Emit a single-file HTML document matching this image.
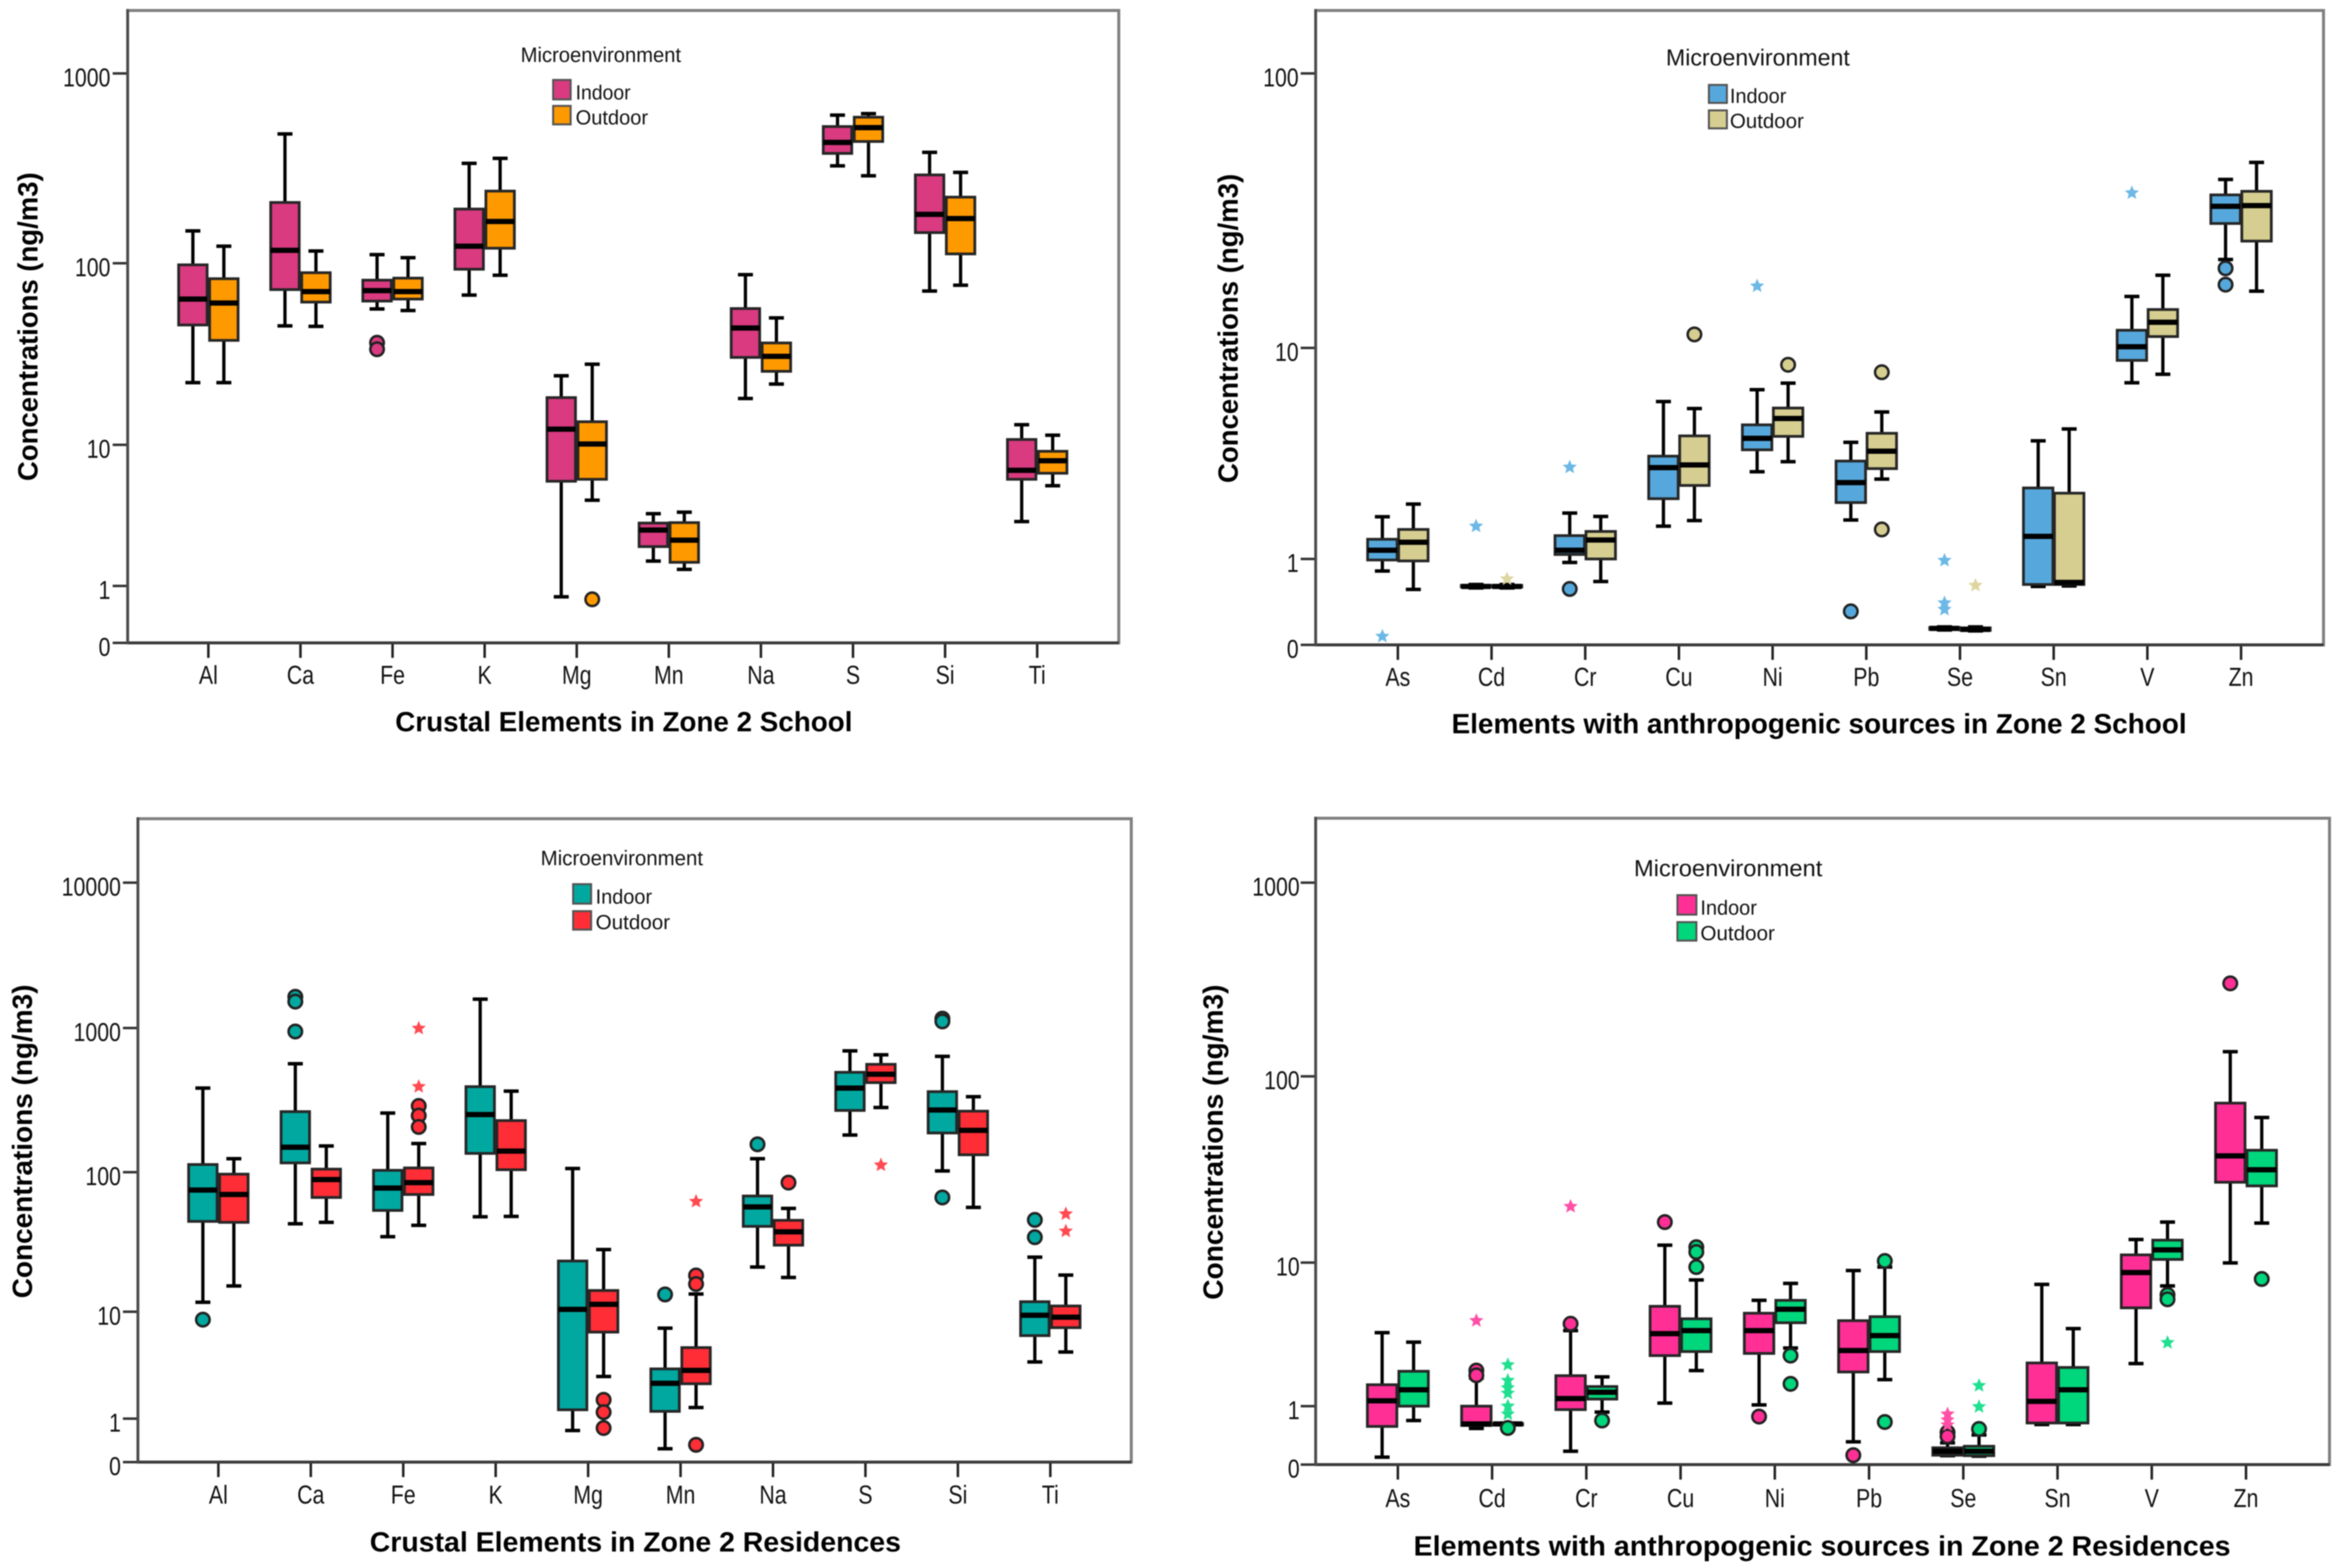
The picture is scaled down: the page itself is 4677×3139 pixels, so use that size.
<!DOCTYPE html>
<html lang="en">
<head>
<meta charset="utf-8">
<title>Element concentrations in Zone 2</title>
<style>
html,body{margin:0;padding:0;background:#fff;}
body{width:4677px;height:3139px;overflow:hidden;}
svg{display:block;filter:blur(1px);}
text{font-family:"Liberation Sans",sans-serif;fill:#111;}
.ttl{font-weight:700;fill:#000;}
</style>
</head>
<body>
<svg id="chart" xmlns="http://www.w3.org/2000/svg" width="4677" height="3139" viewBox="0 0 4677 3139">
<rect x="0" y="0" width="4677" height="3139" fill="#ffffff"/>

<g id="p1">
  <rect x="255.5" y="21" width="1983.5" height="1266" fill="#fff" stroke="#808080" stroke-width="6"/>
  <text class="ttl" font-size="56" textLength="618" lengthAdjust="spacingAndGlyphs" transform="translate(75,963) rotate(-90)">Concentrations (ng/m3)</text>
  <text class="ttl" x="791" y="1464" font-size="56" textLength="915" lengthAdjust="spacingAndGlyphs">Crustal Elements in Zone 2 School</text>
  <text x="1042" y="124" font-size="42" textLength="321" lengthAdjust="spacingAndGlyphs">Microenvironment</text>
  <rect x="1107" y="160" width="35" height="39" fill="#D93A80" stroke="#555" stroke-width="4"/>
  <rect x="1107" y="212" width="35" height="37" fill="#FF9900" stroke="#555" stroke-width="4"/>
  <text x="1152" y="199" font-size="41" textLength="110" lengthAdjust="spacingAndGlyphs">Indoor</text>
  <text x="1152" y="249" font-size="41" textLength="145" lengthAdjust="spacingAndGlyphs">Outdoor</text>
</g>

<g id="p2">
  <rect x="2633" y="21" width="2017" height="1270" fill="#fff" stroke="#808080" stroke-width="6"/>
  <text class="ttl" font-size="56" textLength="619" lengthAdjust="spacingAndGlyphs" transform="translate(2477,967) rotate(-90)">Concentrations (ng/m3)</text>
  <text class="ttl" x="2905" y="1468" font-size="56" textLength="1471" lengthAdjust="spacingAndGlyphs">Elements with anthropogenic sources in Zone 2 School</text>
  <text x="3334" y="131" font-size="46" textLength="368" lengthAdjust="spacingAndGlyphs">Microenvironment</text>
  <rect x="3420" y="170" width="36" height="36" fill="#56A8DC" stroke="#555" stroke-width="4"/>
  <rect x="3420" y="221" width="36" height="36" fill="#D6CE90" stroke="#555" stroke-width="4"/>
  <text x="3462" y="206" font-size="41" textLength="113" lengthAdjust="spacingAndGlyphs">Indoor</text>
  <text x="3462" y="256" font-size="41" textLength="148" lengthAdjust="spacingAndGlyphs">Outdoor</text>
</g>

<g id="p3">
  <rect x="276" y="1639" width="1988" height="1288" fill="#fff" stroke="#808080" stroke-width="6"/>
  <text class="ttl" font-size="56" textLength="628" lengthAdjust="spacingAndGlyphs" transform="translate(64,2599) rotate(-90)">Concentrations (ng/m3)</text>
  <text class="ttl" x="740" y="3106" font-size="56" textLength="1063" lengthAdjust="spacingAndGlyphs">Crustal Elements in Zone 2 Residences</text>
  <text x="1082" y="1732" font-size="42" textLength="325" lengthAdjust="spacingAndGlyphs">Microenvironment</text>
  <rect x="1147" y="1770" width="36" height="39" fill="#00A8A0" stroke="#555" stroke-width="4"/>
  <rect x="1147" y="1824" width="36" height="37" fill="#FF2D35" stroke="#555" stroke-width="4"/>
  <text x="1192" y="1809" font-size="41" textLength="113" lengthAdjust="spacingAndGlyphs">Indoor</text>
  <text x="1192" y="1860" font-size="41" textLength="149" lengthAdjust="spacingAndGlyphs">Outdoor</text>
</g>

<g id="p4">
  <rect x="2633" y="1638" width="2029" height="1294" fill="#fff" stroke="#808080" stroke-width="6"/>
  <text class="ttl" font-size="56" textLength="631" lengthAdjust="spacingAndGlyphs" transform="translate(2447,2602) rotate(-90)">Concentrations (ng/m3)</text>
  <text class="ttl" x="2829" y="3114" font-size="56" textLength="1635" lengthAdjust="spacingAndGlyphs">Elements with anthropogenic sources in Zone 2 Residences</text>
  <text x="3270" y="1754" font-size="46" textLength="377" lengthAdjust="spacingAndGlyphs">Microenvironment</text>
  <rect x="3357" y="1792" width="38" height="39" fill="#FF2F96" stroke="#555" stroke-width="4"/>
  <rect x="3357" y="1846" width="38" height="37" fill="#00D67B" stroke="#555" stroke-width="4"/>
  <text x="3403" y="1831" font-size="41" textLength="113" lengthAdjust="spacingAndGlyphs">Indoor</text>
  <text x="3403" y="1882" font-size="41" textLength="149" lengthAdjust="spacingAndGlyphs">Outdoor</text>
</g>
</svg>

<script>
/* Each stats row: [lower whisker, Q1, median, Q3, upper whisker] in ng/m3 */
const crustalCategories = ["Al","Ca","Fe","K","Mg","Mn","Na","S","Si","Ti"];
const anthroCategories = ["As","Cd","Cr","Cu","Ni","Pb","Se","Sn","V","Zn"];

const p1TickValues = [0,1,10,100,1000];
const p1TickLabels = ["0","1","10","100","1000"];
const p1IndoorStats = [[22,45.7,63.5,98,148],[45.2,71.6,117,209,480],[56,61.9,70.7,80.7,111],[66.8,92.7,123,193,336],[0.809,5.52,12.2,18.2,24],[1.5,1.9,2.49,2.79,3.25],[18,30.3,44,56.3,86.5],[326,379,433,525,603],[70.3,145,181,292,384],[2.86,5.7,6.6,10.7,12.9]];
const p1OutdoorStats = [[22,37.6,60.4,82.2,123],[44.9,61.1,69.8,88.7,116],[54.9,63.5,69.8,82.8,107],[85.9,120,166,240,357],[4.05,5.7,10.1,13.4,27.8],[1.31,1.47,2.11,2.81,3.33],[21.6,25.4,30.7,36.4,50],[289,438,518,588,614],[75.7,112,172,223,301],[5.13,6.29,7.71,9,11.3]];
const p1IndoorOutliers = [[],[],[36.5,33.6],[],[],[],[],[],[],[]];
const p1OutdoorOutliers = [[],[],[],[],[0.765],[],[],[],[],[]];
const p1IndoorExtremes = [[],[],[],[],[],[],[],[],[],[]];
const p1OutdoorExtremes = [[],[],[],[],[],[],[],[],[],[]];

const p2TickValues = [0,1,10,100];
const p2TickLabels = ["0","1","10","100"];
const p2IndoorStats = [[0.86,0.988,1.1,1.24,1.585],[0.663,0.674,0.68,0.692,0.703],[0.959,1.05,1.1,1.29,1.65],[1.43,1.93,2.71,3.07,5.57],[2.59,3.29,3.73,4.32,6.34],[1.53,1.85,2.3,2.91,3.57],[0.174,0.18,0.192,0.203,0.209],[0.68,0.703,1.28,2.17,3.63],[6.84,8.73,10.1,11.6,15.4],[21,28.4,32.8,36.1,41.1]];
const p2OutdoorStats = [[0.645,0.977,1.2,1.38,1.82],[0.663,0.674,0.68,0.692,0.703],[0.738,1,1.23,1.35,1.59],[1.52,2.23,2.79,3.83,5.16],[2.89,3.81,4.63,5.19,6.81],[2.39,2.68,3.24,3.94,4.97],[0.163,0.169,0.18,0.198,0.209],[0.686,0.703,0.727,2.05,4.13],[7.5,11,12.4,13.8,18.4],[16.1,24.5,33,37.2,47.4]];
const p2IndoorOutliers = [[],[],[0.651],[],[],[0.39],[],[],[],[19.5,17]];
const p2OutdoorOutliers = [[],[],[],[11.2],[8.32],[7.67,1.38],[],[],[],[]];
const p2IndoorExtremes = [[0.099],[1.43],[2.72],[],[16.8],[],[0.983,0.488,0.413],[],[36.7],[]];
const p2OutdoorExtremes = [[],[0.767],[],[],[],[],[0.692],[],[],[]];

const p3TickValues = [0,1,10,100,1000,10000];
const p3TickLabels = ["0","1","10","100","1000","10000"];
const p3IndoorStats = [[11.7,44.4,74.5,113,383],[42.7,116,149,263,565],[34.5,53.2,77,103,257],[47.9,135,251,392,1580],[0.727,1.21,10.4,23.1,106],[0.307,1.17,2.14,2.92,7.02],[20.9,40.9,56.4,67.5,124],[181,268,383,493,694],[102,187,270,362,636],[3.39,5.98,9.28,11.8,24.6]];
const p3OutdoorStats = [[15.3,43.7,69.2,96.8,124],[43.7,65.9,88.5,105,152],[41.6,69.2,84.2,107,158],[48.2,104,140,228,365],[2.48,6.45,11.3,14.2,27.9],[1.27,2.12,2.83,4.62,13.4],[17.6,30,37.4,45.2,55],[281,418,478,560,652],[55.9,132,195,265,334],[4.2,7.1,8.89,11,18.3]];
const p3IndoorOutliers = [[8.43],[1640,1520,946],[],[],[],[13.3],[156],[],[1160,1110,65.9],[45.5,34.2]];
const p3OutdoorOutliers = [[],[],[288,247,206],[],[1.5,1.15,0.784],[18.2,15.8,0.398],[84.2],[],[],[]];
const p3IndoorExtremes = [[],[],[],[],[],[],[],[],[],[]];
const p3OutdoorExtremes = [[],[],[995,392],[],[],[61.7],[],[112],[],[50.2,37.8]];

const p4TickValues = [0,1,10,100,1000];
const p4TickLabels = ["0","1","10","100","1000"];
const p4IndoorStats = [[0.127,0.653,1.09,1.41,3.25],[0.619,0.669,0.695,1,1.57],[0.229,0.941,1.13,1.63,3.36],[1.05,2.25,3.2,4.96,12.4],[1.02,2.33,3.36,4.44,5.46],[0.39,1.73,2.44,3.94,8.8],[0.153,0.161,0.229,0.288,0.373],[0.686,0.712,1.08,2,7.05],[1.98,4.84,8.53,11,13.3],[9.95,27,37.4,71.8,134]];
const p4OutdoorStats = [[0.754,1,1.3,1.75,2.79],[0.669,0.678,0.695,0.703,0.712],[0.898,1.12,1.25,1.37,1.6],[1.77,2.4,3.36,4.06,7.57],[2.54,3.81,4.73,5.46,7.16],[1.53,2.4,3.1,4.2,9.31],[0.144,0.153,0.229,0.314,0.508],[0.686,0.712,1.3,1.86,3.47],[6.88,10.4,11.7,13.2,16.5],[16.3,25.8,31.5,40.1,60.1]];
const p4IndoorOutliers = [[],[1.77,1.64],[3.75],[16.5],[0.822],[0.161],[0.551,0.483],[],[],[302]];
const p4OutdoorOutliers = [[],[0.627],[0.754],[12.1,11.4,9.31],[2.25,1.43],[10.2,0.729],[0.61],[],[5.96,5.55],[7.69]];
const p4IndoorExtremes = [[],[3.94],[20],[],[],[],[0.864,0.763,0.678],[],[],[]];
const p4OutdoorExtremes = [[],[1.94,1.51,1.34,1.23,1,0.864],[],[],[],[],[1.39,0.99],[],[2.77],[]];

const NS = "http://www.w3.org/2000/svg";

const panels = [
 {id:"p1",cats:crustalCategories,ticks:p1TickValues,tickLabels:p1TickLabels,inStats:p1IndoorStats,outStats:p1OutdoorStats,inOut:p1IndoorOutliers,outOut:p1OutdoorOutliers,inExt:p1IndoorExtremes,outExt:p1OutdoorExtremes,
  left:255.5,bottom:1287,tickY:[1287,1173,890.5,527,147],x0:417,step:184.3,labelRight:221,catBase:1369,inColor:"#D93A80",outColor:"#FF9900",inStar:"#E0609A",outStar:"#FFB040",boxW:57,off:31},
 {id:"p2",cats:anthroCategories,ticks:p2TickValues,tickLabels:p2TickLabels,inStats:p2IndoorStats,outStats:p2OutdoorStats,inOut:p2IndoorOutliers,outOut:p2OutdoorOutliers,inExt:p2IndoorExtremes,outExt:p2OutdoorExtremes,
  left:2633,bottom:1291,tickY:[1291,1119,696.5,147],x0:2797.5,step:187.5,labelRight:2599,catBase:1373,inColor:"#56A8DC",outColor:"#D6CE90",inStar:"#6CB8E6",outStar:"#DDD6A0",boxW:59,off:31},
 {id:"p3",cats:crustalCategories,ticks:p3TickValues,tickLabels:p3TickLabels,inStats:p3IndoorStats,outStats:p3OutdoorStats,inOut:p3IndoorOutliers,outOut:p3OutdoorOutliers,inExt:p3IndoorExtremes,outExt:p3OutdoorExtremes,
  left:276,bottom:2927,tickY:[2927,2840,2626,2346.6,2058,1767],x0:437,step:185,labelRight:242,catBase:3010,inColor:"#00A8A0",outColor:"#FF2D35",inStar:"#20B8B0",outStar:"#FF4A52",boxW:57,off:31},
 {id:"p4",cats:anthroCategories,ticks:p4TickValues,tickLabels:p4TickLabels,inStats:p4IndoorStats,outStats:p4OutdoorStats,inOut:p4IndoorOutliers,outOut:p4OutdoorOutliers,inExt:p4IndoorExtremes,outExt:p4OutdoorExtremes,
  left:2633,bottom:2932,tickY:[2932,2815,2527.6,2154.7,1767],x0:2797.5,step:188.6,labelRight:2601,catBase:3017,inColor:"#FF2F96",outColor:"#00D67B",inStar:"#FF4FA6",outStar:"#20E090",boxW:59,off:31.5}
];

function mk(parent, tag, attrs, txt){
  const el = document.createElementNS(NS, tag);
  for (const k in attrs) el.setAttribute(k, attrs[k]);
  if (txt !== undefined) el.textContent = txt;
  parent.appendChild(el);
  return el;
}

function yScale(p, v){
  const t = p.ticks, y = p.tickY;
  if (v <= 0) return y[0];
  for (let i = 0; i < t.length - 1; i++){
    if (v <= t[i+1] || i === t.length - 2){
      const f = t[i] === 0 ? v / t[i+1]
        : (Math.log10(v) - Math.log10(t[i])) / (Math.log10(t[i+1]) - Math.log10(t[i]));
      return y[i] + f * (y[i+1] - y[i]);
    }
  }
}

function xScale(p, i){ return p.x0 + i * p.step; }

function starPoints(cx, cy, r){
  const pts = [];
  for (let k = 0; k < 10; k++){
    const a = -Math.PI / 2 + k * Math.PI / 5;
    const rr = k % 2 ? r * 0.45 : r;
    pts.push((cx + rr * Math.cos(a)).toFixed(1) + "," + (cy + rr * Math.sin(a)).toFixed(1));
  }
  return pts.join(" ");
}

function drawSeries(p, root, stats, outliers, extremes, color, star, dx, seriesName){
  stats.forEach(function(s, i){
    const cx = xScale(p, i) + dx;
    const g = mk(root, "g", {});
    
    
    const yLo = yScale(p, s[0]), yQ1 = yScale(p, s[1]), yMed = yScale(p, s[2]), yQ3 = yScale(p, s[3]), yHi = yScale(p, s[4]);
    const whisker = mk(g, "line", {x1:cx,x2:cx,y1:yHi,y2:yLo,stroke:"#000","stroke-width":6.5});
    
    
    [yLo, yHi].forEach(function(cy){
      const cap = mk(g, "line", {x1:cx-15,x2:cx+15,y1:cy,y2:cy,stroke:"#000","stroke-width":7});
      
      
    });
    const box = mk(g, "rect", {x:cx-p.boxW/2,y:yQ3,width:p.boxW,height:Math.max(yQ1-yQ3,1),fill:color,stroke:"#262626","stroke-width":5.5});
    
    
    const med = mk(g, "line", {x1:cx-p.boxW/2,x2:cx+p.boxW/2,y1:yMed,y2:yMed,stroke:"#000","stroke-width":10.5});
    
    
    outliers[i].forEach(function(v){
      const o = mk(g, "circle", {cx:cx,cy:yScale(p, v),r:13.5,fill:color,stroke:"#222","stroke-width":5});
      
      
    });
    extremes[i].forEach(function(v){
      const e = mk(g, "polygon", {points:starPoints(cx, yScale(p, v), 15),fill:star});
      
      
    });
  });
}

panels.forEach(function(p){
  const root = document.getElementById(p.id);
  p.ticks.forEach(function(t, i){
    const y = p.tickY[i];
    const tick = mk(root, "line", {x1:p.left-30,x2:p.left,y1:y,y2:y,stroke:"#333","stroke-width":5});
    
    
    const lab = mk(root, "text", {"font-size":52,"text-anchor":"end",transform:"translate("+p.labelRight+","+(y+26)+") scale(0.82,1)"}, p.tickLabels[i]);
    
    
  });
  p.cats.forEach(function(c, i){
    const x = xScale(p, i);
    const tick = mk(root, "line", {x1:x,x2:x,y1:p.bottom,y2:p.bottom+30,stroke:"#222","stroke-width":5});
    
    
    const lab = mk(root, "text", {"font-size":52,"text-anchor":"middle",transform:"translate("+x+","+p.catBase+") scale(0.82,1)"}, c);
    
    
  });
  const frame = root.querySelector('rect');
  const fx = +frame.getAttribute('x'), fw = +frame.getAttribute('width');
  const axisX = mk(root, "line", {x1:fx,x2:fx+fw,y1:p.bottom,y2:p.bottom,stroke:"#3a3a3a","stroke-width":6});
  
  
  const axisY = mk(root, "line", {x1:fx,x2:fx,y1:+frame.getAttribute('y')-3,y2:p.bottom+3,stroke:"#4a4a4a","stroke-width":5});
  
  
  drawSeries(p, root, p.inStats, p.inOut, p.inExt, p.inColor, p.inStar, -p.off, 'indoor');
  drawSeries(p, root, p.outStats, p.outOut, p.outExt, p.outColor, p.outStar, p.off, 'outdoor');
});
</script>
</body>
</html>
